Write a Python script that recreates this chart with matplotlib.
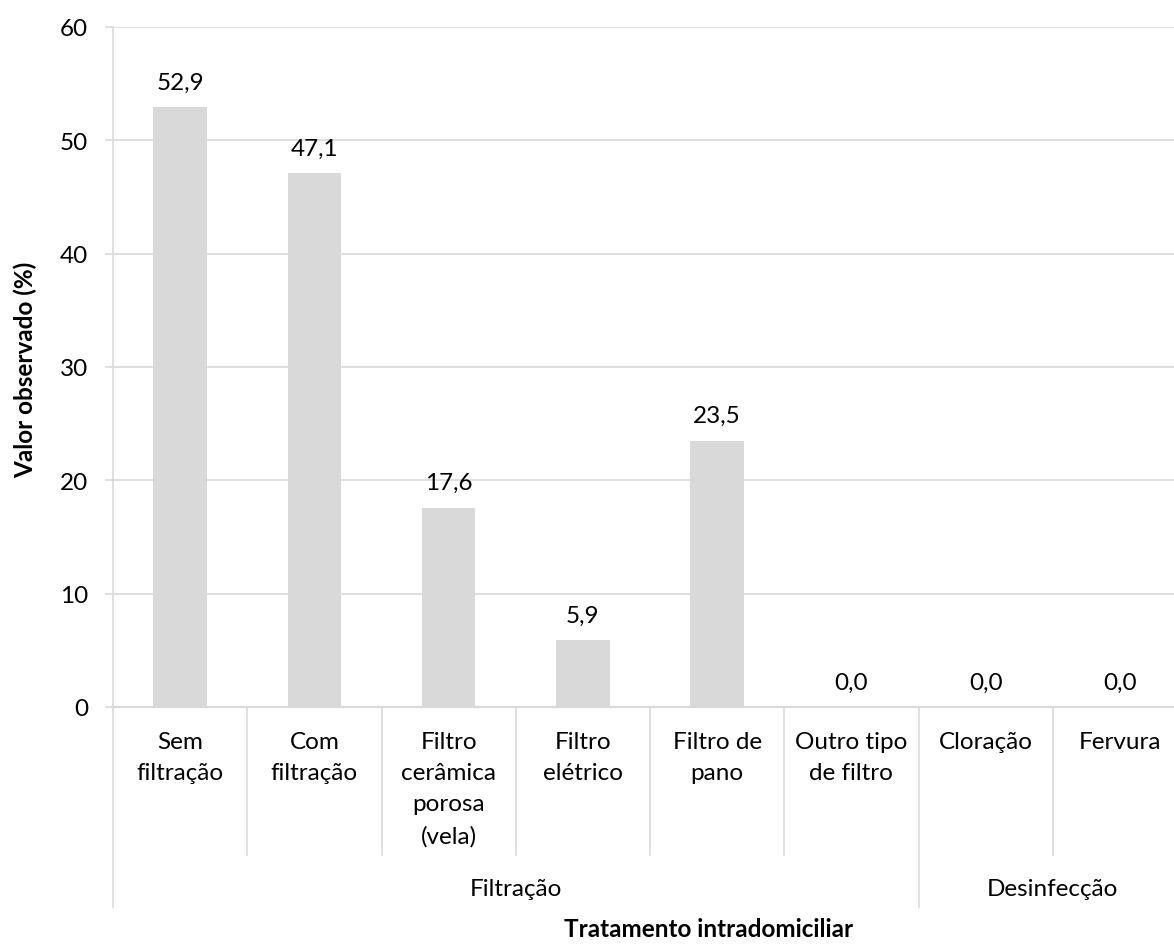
import matplotlib
matplotlib.use("Agg")
import matplotlib.pyplot as plt
from matplotlib.transforms import blended_transform_factory

plt.rcParams['font.family'] = ['Lato', 'DejaVu Sans']

categories = ["Sem\nfiltração", "Com\nfiltração", "Filtro\ncerâmica\nporosa\n(vela)",
              "Filtro\nelétrico", "Filtro de\npano", "Outro tipo\nde filtro",
              "Cloração", "Fervura"]
values = [52.9, 47.1, 17.6, 5.9, 23.5, 0.0, 0.0, 0.0]
groups = ["Filtração", "Desinfecção"]
group_sizes = [6, 2]
y_ticks = [0, 10, 20, 30, 40, 50, 60]
y_label = "Valor observado (%)"
x_label = "Tratamento intradomiciliar"

W, H = 1174, 945
fig = plt.figure(figsize=(W / 100, H / 100), dpi=100)
left, right, top, bottom = 113, 1187, 28, 708
ax = fig.add_axes([left / W, 1 - bottom / H, (right - left) / W, (bottom - top) / H])

grid_c = "#d9d9d9"
bar_c = "#d9d9d9"
text_c = "#000000"
fs = 17.5
px = 72 / 100  # points per pixel

x = [i + 0.5 for i in range(len(categories))]
ax.bar(x, values, width=0.4, color=bar_c, zorder=3)
for xi, v in zip(x, values):
    ax.annotate(f"{v:.1f}".replace(".", ","), (xi, v), xytext=(0, 25 * px),
                textcoords="offset points", ha="center", va="center", fontsize=fs, color=text_c)

ax.set_xlim(0, len(categories))
ax.set_ylim(0, 60)
ax.set_yticks(y_ticks)
ax.set_yticklabels([str(t) for t in y_ticks], fontsize=fs, color=text_c)
ax.yaxis.grid(True, color=grid_c, linewidth=1.2, zorder=0)
ax.tick_params(axis='y', length=8 * px, width=1.2, color=grid_c, pad=17 * px)
ax.set_xticks([])
for s in ["top", "right"]:
    ax.spines[s].set_visible(False)
ax.spines["left"].set_color(grid_c)
ax.spines["left"].set_linewidth(1.2)
ax.spines["bottom"].set_color(grid_c)
ax.spines["bottom"].set_linewidth(1.6)

ph = bottom - top
trans = blended_transform_factory(ax.transData, ax.transAxes)
inner_y = -(856 - bottom) / ph
outer_y = -(908 - bottom) / ph
group_bounds = [0]
for g in group_sizes:
    group_bounds.append(group_bounds[-1] + g)
for b in range(0, len(categories) + 1):
    yb = outer_y if b in group_bounds else inner_y
    ax.plot([b, b], [0, yb], color=grid_c, linewidth=1.2, transform=trans, clip_on=False)

lab_top = -(732 - bottom) / ph
for xi, c in zip(x, categories):
    ax.text(xi, lab_top, c, transform=trans, ha="center", va="top", fontsize=fs,
            color=text_c, linespacing=1.6)

grp_y = -(890 - bottom) / ph
for i, g in enumerate(groups):
    xc = (group_bounds[i] + group_bounds[i + 1]) / 2
    ax.text(xc, grp_y, g, transform=trans, ha="center", va="center", fontsize=fs, color=text_c)

fig.text(709 / W, 1 - 930 / H, x_label, ha="center", va="center", fontsize=fs,
         fontweight="bold", color=text_c)
fig.text(25 / W, 1 - 370 / H, y_label, rotation=90, ha="center", va="center",
         fontsize=fs, fontweight="bold", color=text_c)

fig.savefig("out.png", dpi=100)
